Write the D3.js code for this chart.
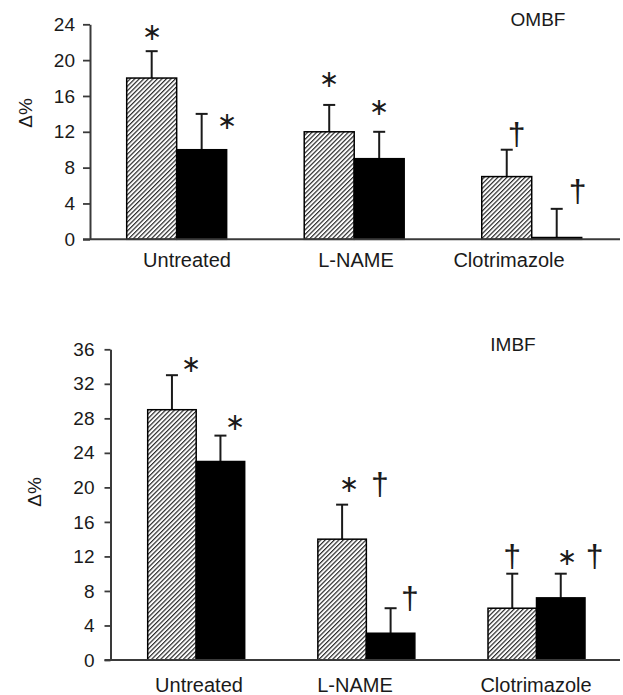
<!DOCTYPE html>
<html>
<head>
<meta charset="utf-8">
<script src="https://cdn.jsdelivr.net/npm/d3@7"></script>
<style>
  html, body { margin: 0; padding: 0; background: #fff; }
  svg { display: block; }
  text { font-family: "Liberation Sans", Arial, sans-serif; fill: #1a1a1a; }
</style>
</head>
<body>
<svg id="chart" width="623" height="695"></svg>
<script>
// ---------- DATA ----------
const categories = ["Untreated", "L-NAME", "Clotrimazole"];
const seriesNames = ["hatched", "black"];

// OMBF panel
const ombfHatched = [18, 12, 7];
const ombfHatchedErr = [21, 15, 10];
const ombfBlack = [10, 9, 0.2];
const ombfBlackErr = [14, 12, 3.4];
const ombfTicks = [0, 4, 8, 12, 16, 20, 24];
// significance markers: [category index, series index, symbol, y value (data units), x shift in bar widths]
const ombfMarkers = [
  [0, 0, "∗", 23.2, 0], [0, 1, "∗", 13.3, 0.5],
  [1, 0, "∗", 18.0, 0], [1, 1, "∗", 14.8, 0],
  [2, 0, "†", 11.9, 0.2], [2, 1, "†", 5.5, 0.42]
];

// IMBF panel
const imbfHatched = [29, 14, 6];
const imbfHatchedErr = [33, 18, 10];
const imbfBlack = [23, 3.1, 7.2];
const imbfBlackErr = [26, 6, 10];
const imbfTicks = [0, 4, 8, 12, 16, 20, 24, 28, 32, 36];
const imbfMarkers = [
  [0, 0, "∗", 34.4, 0.4], [0, 1, "∗", 27.6, 0.3],
  [1, 0, "∗", 20.4, 0.15], [1, 1, "†", 20.5, -0.22], [1, 1, "†", 7.3, 0.4],
  [2, 0, "†", 12.2, 0], [2, 1, "∗", 12.0, 0.13], [2, 1, "†", 12.2, 0.7]
];

// ---------- DRAW ----------
const svg = d3.select("#chart");

const defs = svg.append("defs");
const pat = defs.append("pattern")
  .attr("id", "hatch")
  .attr("patternUnits", "userSpaceOnUse")
  .attr("width", 3.2).attr("height", 3.2)
  .attr("patternTransform", "rotate(45)");
pat.append("rect").attr("width", 3.2).attr("height", 3.2).attr("fill", "#fff");
pat.append("line").attr("x1", 0.6).attr("y1", 0).attr("x2", 0.6).attr("y2", 3.2)
  .attr("stroke", "#2a2a2a").attr("stroke-width", 1.2);

function panel(cfg) {
  const g = svg.append("g");
  const y = d3.scaleLinear().domain([0, cfg.max]).range([cfg.y0, cfg.y1]);
  const x = d3.scaleBand().domain(categories).range(cfg.xRange).paddingInner(cfg.padInner).paddingOuter(0);
  const xs = d3.scaleBand().domain(seriesNames).range([0, x.bandwidth()]);

  // y axis
  const ax = g.append("g")
    .attr("transform", `translate(${cfg.axisX},0)`)
    .call(d3.axisLeft(y).tickValues(cfg.ticks).tickSize(cfg.tickSize).tickSizeOuter(0).tickPadding(cfg.tickPad));
  ax.select(".domain").attr("stroke", "#3a3a3a").attr("stroke-width", 2);
  ax.selectAll(".tick line").attr("stroke", "#3a3a3a").attr("stroke-width", 1.8);
  ax.selectAll(".tick text").attr("font-size", 19).attr("fill", "#1a1a1a")
    .attr("font-family", '"Liberation Sans", Arial, sans-serif');

  // y title
  g.append("text")
    .attr("transform", `translate(${cfg.titleX},${cfg.titleY}) rotate(-90)`)
    .attr("text-anchor", "middle")
    .attr("font-size", 19)
    .text("Δ%");

  // panel label
  g.append("text")
    .attr("x", cfg.labelX).attr("y", cfg.labelY)
    .attr("text-anchor", "middle").attr("font-size", 19)
    .text(cfg.label);

  // bars
  const rows = [];
  categories.forEach((c, i) => {
    rows.push({ c, s: "hatched", v: cfg.hatched[i], e: cfg.hatchedErr[i] });
    rows.push({ c, s: "black", v: cfg.black[i], e: cfg.blackErr[i] });
  });

  // error bars (drawn first, behind bars)
  const eg = g.append("g").attr("stroke", "#1a1a1a").attr("stroke-width", 2);
  rows.forEach(d => {
    const cx = x(d.c) + xs(d.s) + xs.bandwidth() / 2;
    eg.append("line").attr("x1", cx).attr("x2", cx).attr("y1", y(d.v)).attr("y2", y(d.e));
    eg.append("line").attr("x1", cx - 6).attr("x2", cx + 6).attr("y1", y(d.e)).attr("y2", y(d.e));
  });

  g.append("g").selectAll("rect").data(rows).join("rect")
    .attr("x", d => x(d.c) + xs(d.s))
    .attr("width", xs.bandwidth())
    .attr("y", d => y(d.v))
    .attr("height", d => y(0) - y(d.v))
    .attr("fill", d => d.s === "hatched" ? "url(#hatch)" : "#000")
    .attr("stroke", "#000").attr("stroke-width", 1.5);

  // baseline
  g.append("line")
    .attr("x1", cfg.axisX - cfg.tickSize).attr("x2", 620)
    .attr("y1", y(0)).attr("y2", y(0))
    .attr("stroke", "#3a3a3a").attr("stroke-width", 2);

  // markers
  cfg.markers.forEach(m => {
    const c = categories[m[0]], s = seriesNames[m[1]];
    const cx = x(c) + xs(s) + xs.bandwidth() / 2 + m[4] * xs.bandwidth();
    const isStar = m[2] === "∗";
    g.append("text")
      .attr("x", cx).attr("y", y(m[3]))
      .attr("text-anchor", "middle")
      .attr("dominant-baseline", "central")
      .attr("font-family", isStar ? '"DejaVu Sans", sans-serif' : '"Liberation Sans", Arial, sans-serif')
      .attr("font-size", isStar ? 24 : 32)
      .attr("dy", isStar ? 0 : 1)
      .attr("fill", isStar ? "#6a6a6a" : "#111")
      .text(m[2]);
  });

  // category labels
  const lx = d3.scaleOrdinal().domain(categories).range(cfg.catX);
  g.append("g").selectAll("text").data(categories).join("text")
    .attr("x", d => lx(d)).attr("y", cfg.catY)
    .attr("text-anchor", "middle").attr("font-size", 20)
    .text(d => d);
}

panel({
  max: 24, y0: 239.3, y1: 24.3, axisX: 90, tickSize: 7, tickPad: 8,
  xRange: [126.7, 581.7], padInner: 0.437, ticks: ombfTicks,
  hatched: ombfHatched, hatchedErr: ombfHatchedErr, black: ombfBlack, blackErr: ombfBlackErr,
  markers: ombfMarkers,
  titleX: 32, titleY: 113, label: "OMBF", labelX: 538, labelY: 26,
  catX: [187, 356, 509], catY: 267
});

panel({
  max: 36, y0: 660, y1: 349.3, axisX: 110.5, tickSize: 6, tickPad: 10,
  xRange: [147.7, 585], padInner: 0.43, ticks: imbfTicks,
  hatched: imbfHatched, hatchedErr: imbfHatchedErr, black: imbfBlack, blackErr: imbfBlackErr,
  markers: imbfMarkers,
  titleX: 41, titleY: 492, label: "IMBF", labelX: 513, labelY: 351,
  catX: [199, 355, 536], catY: 692
});
</script>
</body>
</html>
